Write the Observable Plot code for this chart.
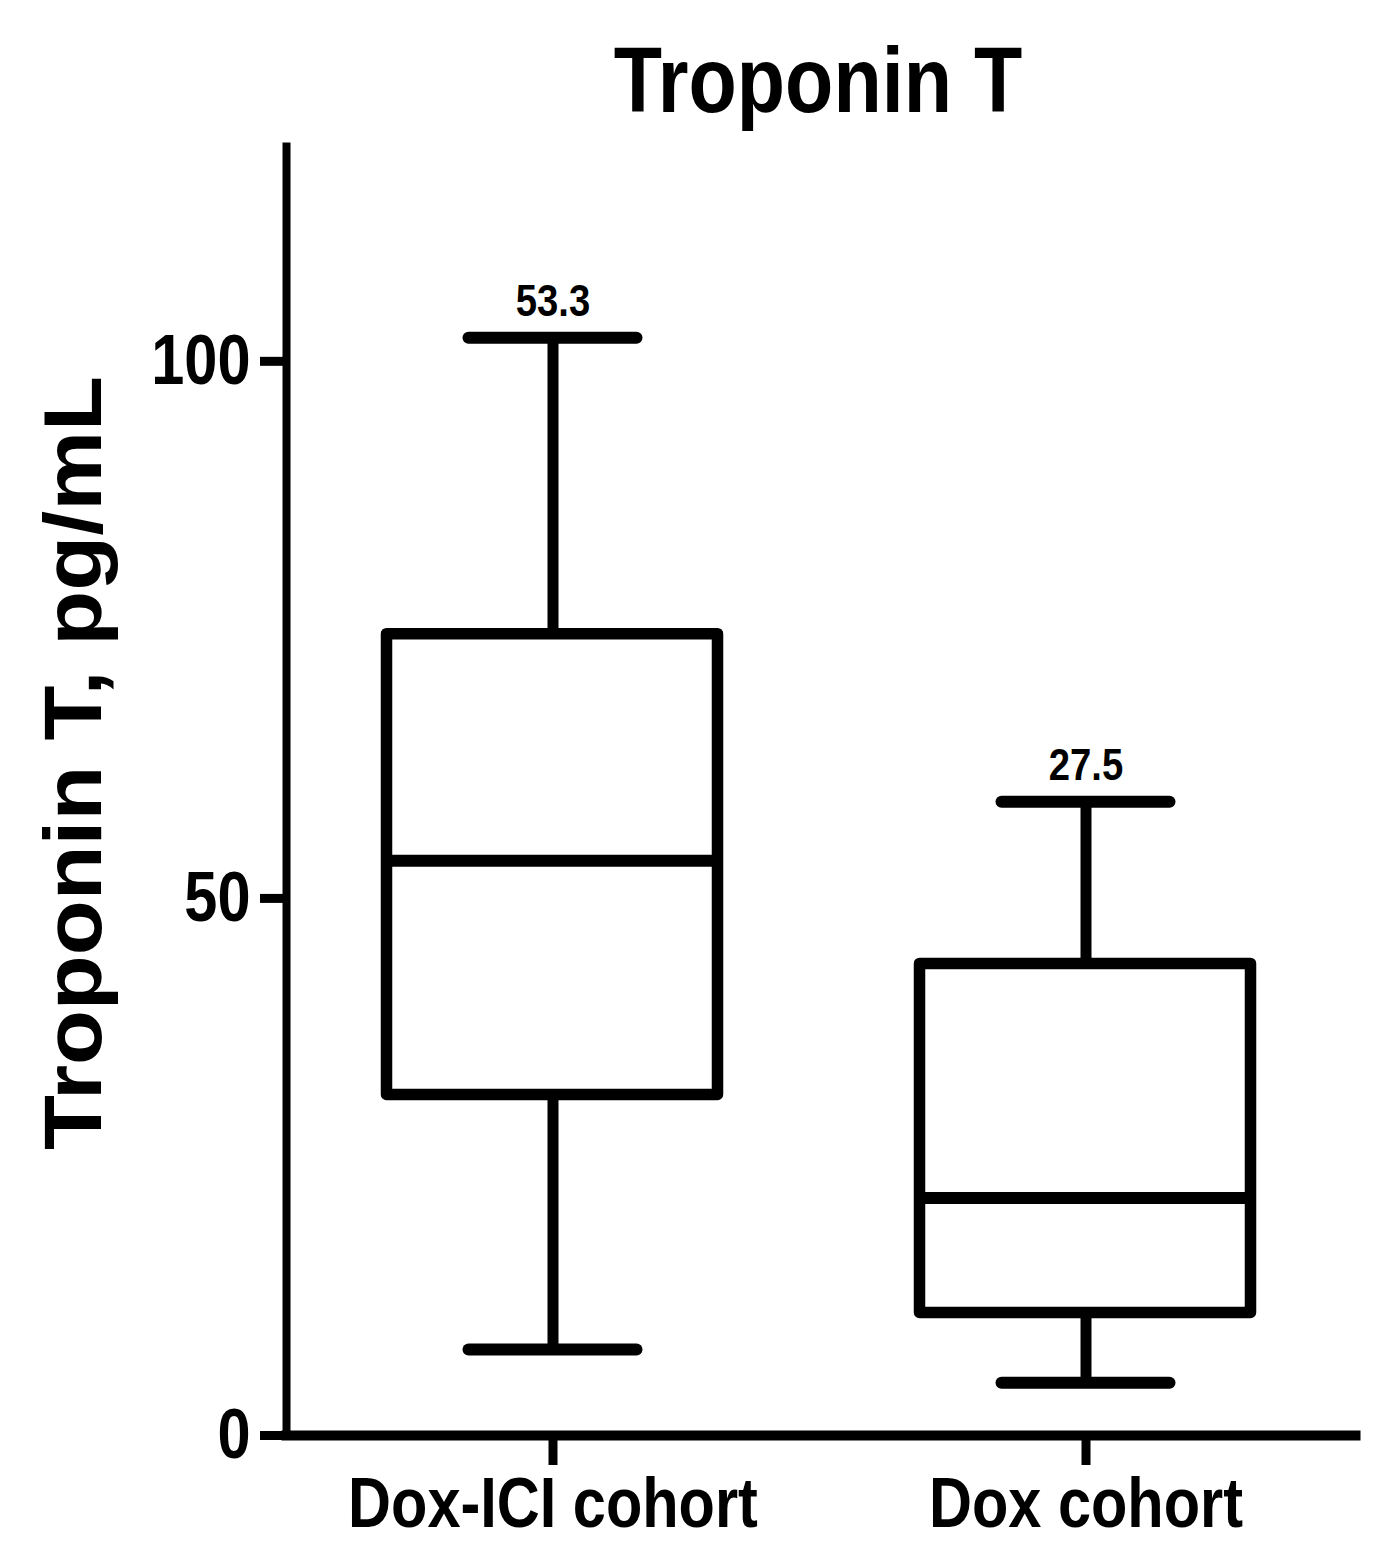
<!DOCTYPE html>
<html>
<head>
<meta charset="utf-8">
<script src="https://cdn.jsdelivr.net/npm/d3@7"></script>
<script src="https://cdn.jsdelivr.net/npm/@observablehq/plot@0.6"></script>
<style>
  html, body { margin: 0; padding: 0; background: #fff; }
  #wrap { width: 1396px; font-family: "Liberation Sans", Arial, sans-serif; font-weight: bold; color: #000; }
  #title { position: relative; width: 1396px; height: 130px; }
  #title span { position: absolute; left: 818px; top: 0; line-height: 160px; font-size: 93px; white-space: nowrap;
    transform: translateX(-50%) scaleX(0.85); transform-origin: center; }
  svg { display: block; }
</style>
</head>
<body>
<div id="wrap">
  <div id="title"><span>Troponin T</span></div>
  <div id="chart"></div>
</div>
<script>
const cohorts = ["Dox-ICI cohort", "Dox cohort"];
const whiskerMin = [8.0, 4.9];
const q1 = [31.7, 11.4];
const median = [53.5, 22.1];
const q3 = [74.6, 43.9];
const whiskerMax = [102.2, 59.0];
const valueLabels = ["53.3", "27.5"];
const yTicks = [0, 50, 100];
const yLabel = "Troponin T, pg/mL";

const data = cohorts.map((c, i) => ({
  cohort: c, min: whiskerMin[i], q1: q1[i], median: median[i], q3: q3[i], max: whiskerMax[i], label: valueLabels[i]
}));

const font = "Liberation Sans, Arial, sans-serif";

const chart = Plot.plot({
  width: 1396,
  height: 1433,
  marginLeft: 286,
  marginRight: 41,
  marginTop: 16,
  marginBottom: 128,
  style: {fontFamily: font, fontWeight: "bold", color: "#000", background: "#fff"},
  x: {type: "band", domain: cohorts, padding: 0, range: [286, 1352]},
  y: {domain: [0, 120]},
  marks: [
    Plot.frame({anchor: "left", stroke: "#000", strokeWidth: 8, strokeLinecap: "square"}),
    Plot.frame({anchor: "bottom", stroke: "#000", strokeWidth: 10}),
    Plot.axisY({ticks: yTicks, tickSize: 26, tickPadding: 10, fontSize: 70, fontWeight: "bold", strokeWidth: 9, label: null, tickFormat: d => String(d)}),
    Plot.axisX({tickSize: 30, tickPadding: 12, fontSize: 70, fontWeight: "bold", strokeWidth: 9, label: null}),
    Plot.ruleX(data, {x: "cohort", y1: "q3", y2: "max", stroke: "#000", strokeWidth: 11}),
    Plot.ruleX(data, {x: "cohort", y1: "min", y2: "q1", stroke: "#000", strokeWidth: 11}),
    Plot.tickY(data, {x: "cohort", y: "max", insetLeft: 182.5, insetRight: 182.5, stroke: "#000", strokeWidth: 12, strokeLinecap: "round"}),
    Plot.tickY(data, {x: "cohort", y: "min", insetLeft: 182.5, insetRight: 182.5, stroke: "#000", strokeWidth: 12, strokeLinecap: "round"}),
    Plot.barY(data, {x: "cohort", y1: "q1", y2: "q3", insetLeft: 100.5, insetRight: 101.5, fill: "#fff", stroke: "#000", strokeWidth: 11.5, strokeLinejoin: "round"}),
    Plot.tickY(data, {x: "cohort", y: "median", insetLeft: 100.5, insetRight: 101.5, stroke: "#000", strokeWidth: 12}),
    Plot.text(data, {x: "cohort", y: "max", text: "label", dy: -22, lineAnchor: "bottom", fontSize: 45, fontWeight: "bold", fill: "#000"}),
    Plot.text([yLabel], {frameAnchor: "left", textAnchor: "middle", dx: -186, dy: -28, rotate: -90, lineAnchor: "bottom", fontSize: 81, fontWeight: "bold", fill: "#000"})
  ]
});

// Text in the reference is horizontally condensed; squeeze each text about its anchor.
chart.querySelectorAll("text").forEach(t => {
  let tr = t.getAttribute("transform") || "";
  const xa = t.getAttribute("x");
  if (xa !== null && /^-?[\d.]+$/.test(xa.trim())) {
    tr += ` translate(${+xa},0)`;
    t.removeAttribute("x");
  }
  if (/rotate/.test(tr)) tr += " scale(1.11,1)";
  else tr += " scale(0.85,1)";
  t.setAttribute("transform", tr.trim());
});

document.getElementById("chart").appendChild(chart);
</script>
</body>
</html>
